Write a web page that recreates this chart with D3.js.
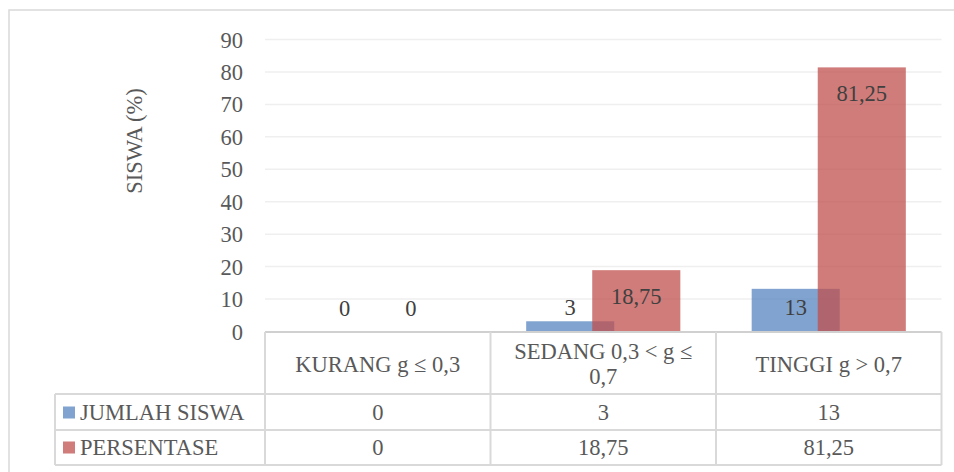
<!DOCTYPE html>
<html>
<head>
<meta charset="utf-8">
<script src="https://cdn.jsdelivr.net/npm/d3@7"></script>
<style>
  html, body { margin: 0; padding: 0; background: #fff; }
  svg { display: block; }
  svg text { font-family: "Liberation Serif", "Times New Roman", "Liberation Sans", Arial, sans-serif; }
</style>
</head>
<body>
<svg id="chart" width="954" height="472"></svg>
<script>
// Categories (gain levels) and the two series shown as bars and in the data table
const categories = ["KURANG g \u2264 0,3", "SEDANG 0,3 < g \u2264 0,7", "TINGGI g > 0,7"];
const categoryLines = [["KURANG g \u2264 0,3"], ["SEDANG 0,3 < g \u2264", "0,7"], ["TINGGI g > 0,7"]];
const seriesNames = ["JUMLAH SISWA", "PERSENTASE"];
const jumlahSiswa = [0, 3, 13];
const persentase = [0, 18.75, 81.25];
const jumlahLabels = ["0", "3", "13"];
const persentaseLabels = ["0", "18,75", "81,25"];
const yTicks = [0, 10, 20, 30, 40, 50, 60, 70, 80, 90];
const yTitle = "SISWA (%)";

const series = [
  { name: seriesNames[0], values: jumlahSiswa, labels: jumlahLabels, color: "#4f81bd", opacity: 0.72, inset: 26 },
  { name: seriesNames[1], values: persentase, labels: persentaseLabels, color: "#c0504d", opacity: 0.75, inset: 34 }
];

const FONT = "'Liberation Serif', 'Times New Roman', 'Liberation Sans', Arial, sans-serif";
const svg = d3.select("#chart").attr("font-family", FONT);
const textColor = "#595959";
const lineColor = "#d9d9d9";
const fontSize = 22.5;

// Plot area
const plot = { left: 265, right: 941.5, top: 39, bottom: 331 };

const x = d3.scaleBand().domain(categories).range([plot.left, plot.right]).paddingInner(0).paddingOuter(0);
const y = d3.scaleLinear().domain([0, 90]).range([plot.bottom, plot.top]);

// Clustered bars: gap width 81 %, overlap 25 %
const gapWidth = 0.81, overlap = 0.25;
const barW = x.bandwidth() / (2 - overlap + gapWidth);
const barOffset = i => (gapWidth / 2) * barW + i * (1 - overlap) * barW;

// Outer chart frame
svg.append("rect")
  .attr("x", 9).attr("y", 10).attr("width", 960).attr("height", 480)
  .attr("fill", "none").attr("stroke", lineColor).attr("stroke-width", 1.5);

// Gridlines and tick labels
const yAxis = d3.axisLeft(y).tickValues(yTicks).tickSize(-(plot.right - plot.left)).tickPadding(22);
const gAxis = svg.append("g").attr("transform", `translate(${plot.left},0)`).call(yAxis)
  .attr("font-family", FONT).attr("font-size", fontSize);
gAxis.select(".domain").remove();
gAxis.selectAll(".tick line")
  .attr("stroke", "#efefef").attr("stroke-width", 1.5)
  .attr("display", d => d === 0 ? "none" : null);
gAxis.selectAll(".tick text")
  .attr("fill", textColor)
  .attr("dy", 8);

// Axis title
svg.append("text")
  .attr("transform", "translate(142,141) rotate(-90)")
  .attr("text-anchor", "middle")
  .attr("font-size", fontSize)
  .attr("fill", textColor)
  .text(yTitle);

// Bars
series.forEach((s, i) => {
  svg.append("g").selectAll("rect")
    .data(categories.map((c, j) => ({ c, v: s.values[j] })))
    .join("rect")
    .attr("x", d => x(d.c) + barOffset(i))
    .attr("y", d => y(d.v))
    .attr("width", barW)
    .attr("height", d => y(0) - y(d.v))
    .attr("fill", s.color)
    .attr("fill-opacity", s.opacity);
});

// Value labels: above short bars, inside the top of taller ones
series.forEach((s, i) => {
  svg.append("g").selectAll("text")
    .data(categories.map((c, j) => ({ c, v: s.values[j], t: s.labels[j] })))
    .join("text")
    .attr("x", d => x(d.c) + barOffset(i) + barW / 2)
    .attr("y", d => {
      const h = y(0) - y(d.v);
      return h < 20 ? Math.min(y(d.v) - 6, y(0) - 15) : y(d.v) + s.inset;
    })
    .attr("text-anchor", "middle")
    .attr("font-size", fontSize)
    .attr("fill", "#404040")
    .text(d => d.t);
});

// Data table
const table = { left: 55, headerBottom: 394, row1Bottom: 430, row2Bottom: 465 };
const tg = svg.append("g").attr("stroke", lineColor).attr("stroke-width", 2).attr("fill", "none");
// category axis line
tg.append("line").attr("x1", plot.left).attr("x2", plot.right).attr("y1", plot.bottom + 1).attr("y2", plot.bottom + 1)
  .attr("stroke", "#d0d0d0");
// horizontal rules
[table.headerBottom, table.row1Bottom, table.row2Bottom].forEach(yy => {
  tg.append("line").attr("x1", table.left).attr("x2", plot.right).attr("y1", yy).attr("y2", yy);
});
// vertical rules at band edges
categories.forEach(c => {
  tg.append("line").attr("x1", x(c)).attr("x2", x(c)).attr("y1", plot.bottom + 1).attr("y2", table.row2Bottom);
});
tg.append("line").attr("x1", plot.right).attr("x2", plot.right).attr("y1", plot.bottom + 1).attr("y2", table.row2Bottom);
tg.append("line").attr("x1", table.left).attr("x2", table.left).attr("y1", table.headerBottom).attr("y2", table.row2Bottom);

// Header cells (category names)
categoryLines.forEach((lines, j) => {
  const cx = x(categories[j]) + x.bandwidth() / 2;
  const t = svg.append("text").attr("text-anchor", "middle").attr("font-size", fontSize).attr("fill", textColor);
  if (lines.length === 1) {
    t.append("tspan").attr("x", cx).attr("y", 371.5).text(lines[0]);
  } else {
    lines.forEach((ln, k) => t.append("tspan").attr("x", cx).attr("y", 358.5 + k * 25).text(ln));
  }
});

// Series rows: legend key, name and values
const rowBaselines = [420, 455];
series.forEach((s, i) => {
  const by = rowBaselines[i];
  svg.append("rect")
    .attr("x", 63).attr("y", by - 13.5).attr("width", 12).attr("height", 12)
    .attr("fill", s.color).attr("fill-opacity", s.opacity);
  svg.append("text")
    .attr("x", 80).attr("y", by)
    .attr("font-size", fontSize).attr("fill", textColor)
    .text(s.name);
  categories.forEach((c, j) => {
    svg.append("text")
      .attr("x", x(c) + x.bandwidth() / 2).attr("y", by)
      .attr("text-anchor", "middle")
      .attr("font-size", fontSize).attr("fill", textColor)
      .text(s.labels[j]);
  });
});
</script>
</body>
</html>
